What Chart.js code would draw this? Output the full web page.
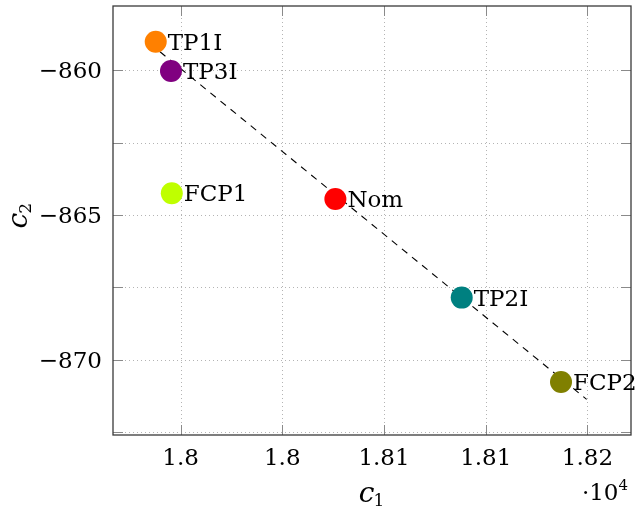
<!DOCTYPE html>
<html>
<head>
<meta charset="utf-8">
<script src="https://cdn.jsdelivr.net/npm/chart.js@4"></script>
<style>
  html, body { margin: 0; padding: 0; background: #fff; }
  #wrap { width: 636px; height: 511px; position: relative; }
</style>
</head>
<body>
<div id="wrap"><canvas id="c" width="636" height="511"></canvas></div>
<script>
// ---- data ----
const categories = ['TP1I', 'TP3I', 'FCP1', 'Nom', 'TP2I', 'FCP2'];
const c1Values = [17987.8, 17995.3, 17995.7, 18076.1, 18138.2, 18187.0];
const c2Values = [-859.02, -860.03, -864.25, -864.45, -867.85, -870.76];
const frontC1 = [17989.9, 18199.6];
const frontC2 = [-859.37, -871.36];
const xTickValues = [18000, 18050, 18100, 18150, 18200];
const xTickLabels = ['1.8', '1.8', '1.81', '1.81', '1.82'];
const yTickValues = [-872.5, -870, -867.5, -865, -862.5, -860, -857.5];
const yTickLabels = ['', '\u2212870', '', '\u2212865', '', '\u2212860', ''];
const xRange = [17966.8, 18221.4];
const yRange = [-872.59, -857.79];

// ---- styles ----
const pointColors = ['#FF8000', '#800080', '#BFFF00', '#FF0000', '#008080', '#808000'];
const FONT = 'DejaVu Serif';
const FS = 23;

const frame = {
  id: 'frame',
  beforeDatasetsDraw(chart) {
    const { ctx, chartArea: a, scales: { x, y } } = chart;
    ctx.save();
    ctx.strokeStyle = '#b4b4b4';
    ctx.lineWidth = 1;
    ctx.setLineDash([1, 3]);
    x.ticks.forEach(t => {
      const px = Math.round(x.getPixelForValue(t.value)) + 0.5;
      ctx.beginPath(); ctx.moveTo(px, a.top); ctx.lineTo(px, a.bottom); ctx.stroke();
    });
    y.ticks.forEach(t => {
      const py = Math.round(y.getPixelForValue(t.value)) + 0.5;
      ctx.beginPath(); ctx.moveTo(a.left, py); ctx.lineTo(a.right, py); ctx.stroke();
    });
    ctx.setLineDash([]);
    ctx.strokeStyle = '#8a8a8a';
    const L = 10;
    x.ticks.forEach(t => {
      const px = Math.round(x.getPixelForValue(t.value)) + 0.5;
      ctx.beginPath(); ctx.moveTo(px, a.bottom); ctx.lineTo(px, a.bottom - L); ctx.stroke();
      ctx.beginPath(); ctx.moveTo(px, a.top); ctx.lineTo(px, a.top + L); ctx.stroke();
    });
    y.ticks.forEach(t => {
      const py = Math.round(y.getPixelForValue(t.value)) + 0.5;
      ctx.beginPath(); ctx.moveTo(a.left, py); ctx.lineTo(a.left + L, py); ctx.stroke();
      ctx.beginPath(); ctx.moveTo(a.right, py); ctx.lineTo(a.right - L, py); ctx.stroke();
    });
    ctx.restore();
  },
  afterDatasetsDraw(chart) {
    const { ctx, chartArea: a, scales: { x, y } } = chart;
    ctx.save();
    ctx.strokeStyle = '#3a3a3a';
    ctx.lineWidth = 1.3;
    ctx.strokeRect(a.left, a.top, a.right - a.left, a.bottom - a.top);
    ctx.fillStyle = '#000';
    ctx.textBaseline = 'alphabetic';
    // tick labels (positioned by the scales)
    ctx.font = FS + 'px "' + FONT + '"';
    ctx.textAlign = 'center';
    x.ticks.forEach(t => {
      const lab = xTickLabels[xTickValues.indexOf(t.value)] ?? '';
      ctx.fillText(lab, x.getPixelForValue(t.value), a.bottom + 30);
    });
    ctx.textAlign = 'right';
    y.ticks.forEach(t => {
      const lab = yTickLabels[yTickValues.indexOf(t.value)] ?? '';
      ctx.fillText(lab, a.left - 11, y.getPixelForValue(t.value) + 8.4);
    });
    // point labels
    ctx.textAlign = 'left';
    categories.forEach((name, i) => {
      const px = x.getPixelForValue(c1Values[i]);
      const py = y.getPixelForValue(c2Values[i]);
      ctx.fillText(name, px + 12, py + 8);
    });
    // axis titles
    const cx = (a.left + a.right) / 2;
    ctx.font = 'italic 28px "' + FONT + '"';
    const cw = ctx.measureText('c').width;
    ctx.font = '17px "' + FONT + '"';
    const sw = ctx.measureText('1').width;
    const x0 = cx - (cw + sw) / 2;
    ctx.font = 'italic 28px "' + FONT + '"';
    ctx.fillText('c', x0, 502);
    ctx.font = '17px "' + FONT + '"';
    ctx.fillText('1', x0 + cw - 1, 506);
    ctx.save();
    const cy = (a.top + a.bottom) / 2;
    ctx.translate(27, cy + 8);
    ctx.rotate(-Math.PI / 2);
    ctx.font = 'italic 28px "' + FONT + '"';
    ctx.fillText('c', 0, 0);
    ctx.font = '17px "' + FONT + '"';
    ctx.fillText('2', cw - 1, 4);
    ctx.restore();
    // multiplier
    ctx.font = FS + 'px "' + FONT + '"';
    const dotW = ctx.measureText('\u00B710').width;
    ctx.font = '15px "' + FONT + '"';
    const fourW = ctx.measureText('4').width;
    const mx = a.right - 3 - dotW - fourW;
    ctx.font = FS + 'px "' + FONT + '"';
    ctx.fillText('\u00B710', mx, 500);
    ctx.font = '15px "' + FONT + '"';
    ctx.fillText('4', mx + dotW, 490);
    ctx.restore();
  }
};

const pointData = c1Values.map((v, i) => ({ x: v, y: c2Values[i] }));
const lineData = frontC1.map((v, i) => ({ x: v, y: frontC2[i] }));

new Chart(document.getElementById('c'), {
  type: 'scatter',
  data: {
    datasets: [
      {
        type: 'line',
        data: lineData,
        borderColor: '#000',
        borderWidth: 1.1,
        borderDash: [7, 6],
        pointRadius: 0,
        fill: false,
        order: 2
      },
      {
        data: pointData,
        pointRadius: 11,
        pointHoverRadius: 11,
        pointBackgroundColor: pointColors,
        pointBorderColor: pointColors,
        pointBorderWidth: 0,
        order: 1
      }
    ]
  },
  options: {
    responsive: false,
    animation: false,
    events: [],
    layout: { autoPadding: false, padding: { top: 6, right: 5, left: 0, bottom: 0 } },
    plugins: { legend: { display: false }, tooltip: { enabled: false } },
    scales: {
      x: {
        type: 'linear',
        min: xRange[0], max: xRange[1],
        grid: { display: false, drawTicks: false },
        border: { display: false },
        afterBuildTicks: s => { s.ticks = xTickValues.map(v => ({ value: v })); },
        afterFit: s => { s.height = 76; },
        ticks: { display: false }
      },
      y: {
        type: 'linear',
        min: yRange[0], max: yRange[1],
        grid: { display: false, drawTicks: false },
        border: { display: false },
        afterBuildTicks: s => { s.ticks = yTickValues.filter(v => v >= yRange[0] && v <= yRange[1]).map(v => ({ value: v })); },
        afterFit: s => { s.width = 113; },
        ticks: { display: false }
      }
    }
  },
  plugins: [frame]
});
</script>
</body>
</html>
